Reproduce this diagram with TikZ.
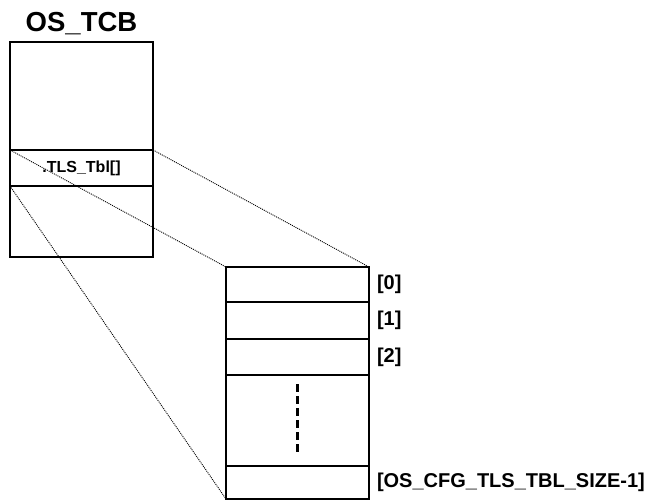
\documentclass[tikz,border=0pt]{standalone}
\usepackage{fontspec}
\setmainfont{Liberation Sans}
\usepackage{tikz}
\usetikzlibrary{positioning}

\begin{document}
\begin{tikzpicture}[x=1pt, y=-1pt,
    every node/.style={font=\bfseries, inner sep=0pt, outer sep=0pt},
    tcbbox/.style={draw, line width=2.6pt, minimum width=143pt},
    slotbox/.style={draw, line width=1.2pt, minimum width=143pt, minimum height=36pt, font=\fontsize{16}{18}\selectfont\bfseries},
    cell/.style={draw, line width=2.6pt, minimum width=143pt},
    idx/.style={anchor=west, font=\fontsize{20}{22}\selectfont\bfseries},
    zoomline/.style={line width=0.9pt, dash pattern=on 1pt off 1pt}]
        \useasboundingbox (0,0) rectangle (647,500);
        % the task control block
        \node[tcbbox, minimum height=215pt] (tcb) at (81.5,149.5) {};
        \node[slotbox] (slot) at (81.5,168) {.TLS\_Tbl[]};
        \node[anchor=base, font=\fontsize{27.5}{30}\selectfont\bfseries] (ttl) at ([yshift=10pt]tcb.north) {OS\_TCB};
        % the table
        \node[cell, minimum height=35pt] (c0) at (297.5,284.5) {};
        \node[cell, minimum height=37pt, below=0pt of c0] (c1) {};
        \node[cell, minimum height=36pt, below=0pt of c1] (c2) {};
        \node[cell, minimum height=91pt, below=0pt of c2] (gap) {};
        \node[cell, minimum height=33pt, below=0pt of gap] (clast) {};
        \draw[line width=2.6pt, dash pattern=on 8pt off 4pt] ([yshift=-9pt]gap.north) -- ([yshift=11pt]gap.south);
        \node[idx] (l0) at ([xshift=8pt]c0.east) {[0]};
        \node[idx] (l1) at ([xshift=8pt]c1.east) {[1]};
        \node[idx] (l2) at ([xshift=8pt]c2.east) {[2]};
        \node[idx] (llast) at ([xshift=8pt]clast.east) {[OS\_CFG\_TLS\_TBL\_SIZE-1]};
        % zoom lines
        \draw[zoomline] (slot.north east) -- (c0.north east);
        \draw[zoomline] (slot.north west) -- (c0.north west);
        \draw[zoomline] (slot.south west) -- (clast.south west);
\end{tikzpicture}
\end{document}
